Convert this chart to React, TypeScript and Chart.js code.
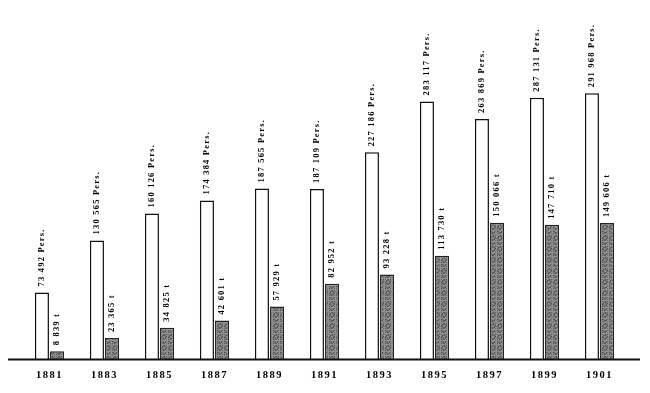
import { useEffect, useRef } from "react";
import { Chart, registerables } from "chart.js";

Chart.register(...registerables);

const years = ["1881", "1883", "1885", "1887", "1889", "1891", "1893", "1895", "1897", "1899", "1901"];
const persons = [73492, 130565, 160126, 174384, 187565, 187109, 227186, 283117, 263869, 287131, 291968];
const tonnes = [8839, 23365, 34825, 42601, 57929, 82952, 93228, 113730, 150066, 147710, 149606];
const personUnit = "Pers.";
const tonneUnit = "t";

const fmt = (v: number) => v.toString().replace(/\B(?=(\d{3})+(?!\d))/g, " ");

function makePattern(): CanvasPattern | string {
  const c = document.createElement("canvas");
  c.width = 7;
  c.height = 11;
  const g = c.getContext("2d");
  if (!g) return "#777";
  for (let x = 0; x < c.width; x++) {
    for (let y = 0; y < c.height; y++) {
      const k = (x * 37 + y * 53 + x * y * 11) % 7;
      const s = 78 + k * 13;
      g.fillStyle = `rgb(${s},${s},${s})`;
      g.fillRect(x, y, 1, 1);
    }
  }
  return g.createPattern(c, "repeat") || "#777";
}

const spacingPlugin = {
  id: "spacing",
  beforeDraw(chart: any) {
    (chart.ctx as any).letterSpacing = "1.5px";
  },
};

const labelPlugin = {
  id: "valueLabels",
  afterDatasetsDraw(chart: any) {
    const ctx = chart.ctx as CanvasRenderingContext2D;
    ctx.save();
    ctx.font = 'bold 8.5px "Liberation Serif"';
    (ctx as any).letterSpacing = "1.2px";
    ctx.fillStyle = "#000";
    ctx.textAlign = "left";
    ctx.textBaseline = "middle";
    chart.data.datasets.forEach((_ds: any, di: number) => {
      const meta = chart.getDatasetMeta(di);
      meta.data.forEach((el: any, i: number) => {
        const text = di === 0 ? `${fmt(persons[i])} ${personUnit}` : `${fmt(tonnes[i])} ${tonneUnit}`;
        ctx.save();
        ctx.translate(el.x, el.y - 6);
        ctx.rotate(-Math.PI / 2);
        ctx.fillText(text, 0, 0);
        ctx.restore();
      });
    });
    const y0 = chart.scales.y.getPixelForValue(0);
    ctx.beginPath();
    ctx.moveTo(8, y0);
    ctx.lineTo(640, y0);
    ctx.lineWidth = 2;
    ctx.strokeStyle = "#111";
    ctx.stroke();
    ctx.restore();
  },
};

export default function App() {
  const ref = useRef<HTMLCanvasElement>(null);
  useEffect(() => {
    if (!ref.current) return;
    const pattern = makePattern();
    const chart = new Chart(ref.current, {
      type: "bar",
      data: {
        labels: years,
        datasets: [
          {
            label: "Personen",
            data: persons,
            backgroundColor: "#ffffff",
            borderColor: "#111",
            borderWidth: 1.5,
            categoryPercentage: 0.55,
            barPercentage: 0.93,
          },
          {
            label: "Tonnen",
            data: tonnes,
            backgroundColor: pattern as any,
            borderColor: "#222",
            borderWidth: 1.5,
            categoryPercentage: 0.55,
            barPercentage: 0.93,
          },
        ],
      },
      options: {
        animation: false,
        responsive: true,
        maintainAspectRatio: false,
        layout: { padding: { top: 86, bottom: 1, left: 22, right: 23 } },
        plugins: {
          legend: { display: false },
          tooltip: { enabled: false },
        },
        scales: {
          x: {
            type: "category",
            offset: true,
            grid: { display: false, drawTicks: false },
            border: { display: false },
            ticks: {
              color: "#000",
              padding: 10,
              maxRotation: 0,
              autoSkip: false,
              font: { family: '"Liberation Serif"', size: 10.5, weight: "bold" },
            },
          },
          y: {
            display: false,
            min: 0,
            max: 300000,
          },
        },
      },
      plugins: [spacingPlugin, labelPlugin],
    });
    return () => chart.destroy();
  }, []);
  return (
    <div style={{ position: "fixed", left: 0, top: 0, width: 650, height: 393, background: "#fff" }}>
      <canvas ref={ref} />
    </div>
  );
}
